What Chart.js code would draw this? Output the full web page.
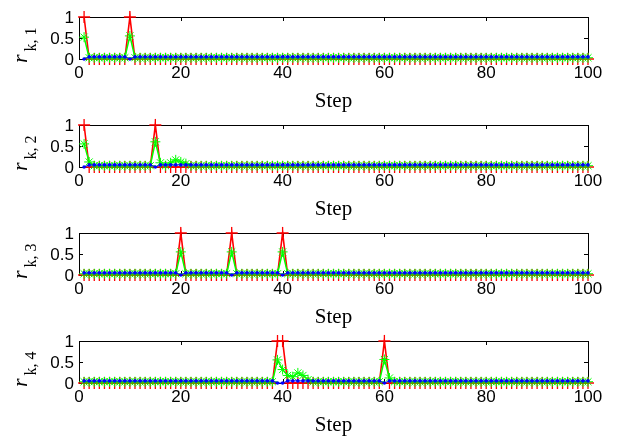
<!DOCTYPE html>
<html>
<head>
  <meta charset="utf-8">
  <title>r_k per step</title>
  <script src="https://cdn.jsdelivr.net/npm/chart.js@4.4.0/dist/chart.umd.min.js"></script>
  <style>
    body { margin: 0; background: #fff; }
    #wrap { position: relative; width: 617px; height: 438px; }
    canvas { position: absolute; left: 0; }
    .ytick {
      position: absolute;
      height: 20px;
      line-height: 20px;
      font: 17px "Liberation Sans", Arial, sans-serif;
      color: #000;
      text-align: right;
      white-space: nowrap;
      z-index: 5;
    }
  </style>
</head>
<body>
  <div id="wrap"></div>
  <script>
    // steps 1..100 on the x axis
    var steps = Array.from({ length: 100 }, function (_, i) { return i + 1; });
    var xTicks = [0, 20, 40, 60, 80, 100];
    var yTicks = [0, 0.5, 1];
    var yTickLabels = ['0', '0.5', '1'];
    var yLabelSubs = ['k, 1', 'k, 2', 'k, 3', 'k, 4'];

    // flat level of each series
    var redBase = 0;
    var greenBase = 0.03;
    var blueBase = 0.05;

    // [step, value] where a series leaves its flat level
    var red1 = [[1, 1], [10, 1]];
    var green1 = [[1, 0.52], [10, 0.55]];
    var blue1 = [[1, 0], [10, 0]];

    var red2 = [[1, 1], [15, 1]];
    var green2 = [[1, 0.55], [2, 0.12], [15, 0.6], [16, 0.1], [18, 0.1], [19, 0.17], [20, 0.12], [21, 0.08]];
    var blue2 = [[1, 0], [15, 0]];

    var red3 = [[20, 1], [30, 1], [40, 1]];
    var green3 = [[20, 0.55], [30, 0.55], [40, 0.55]];
    var blue3 = [[20, 0], [30, 0], [40, 0]];

    var red4 = [[39, 1], [40, 1], [60, 1]];
    var green4 = [[39, 0.55], [40, 0.32], [41, 0.18], [42, 0.15], [43, 0.24], [44, 0.18], [45, 0.08], [60, 0.56], [61, 0.12]];
    var blue4 = [[39, 0], [40, 0], [60, 0]];

    var panels = [
      { red: red1, green: green1, blue: blue1 },
      { red: red2, green: green2, blue: blue2 },
      { red: red3, green: green3, blue: blue3 },
      { red: red4, green: green4, blue: blue4 }
    ];

    function series(base, spikes) {
      var ys = steps.map(function () { return base; });
      spikes.forEach(function (s) { ys[s[0] - 1] = s[1]; });
      return steps.map(function (s, i) { return { x: s, y: ys[i] }; });
    }

    var sansFont = { family: 'Liberation Sans, Arial, sans-serif', size: 17, lineHeight: 1 };
    var wrap = document.getElementById('wrap');
    var panelHeight = 108;

    panels.forEach(function (p, idx) {
      var canvas = document.createElement('canvas');
      canvas.width = 617;
      canvas.height = 114;
      canvas.style.top = (idx * panelHeight) + 'px';
      wrap.appendChild(canvas);

      var decor = {
        id: 'panelDecor',
        beforeDatasetsDraw: function (chart) {
          var a = chart.chartArea, ctx = chart.ctx;
          var xs = chart.scales.x, ys = chart.scales.y;
          ctx.save();
          ctx.strokeStyle = '#000';
          ctx.lineWidth = 1;
          ctx.strokeRect(a.left + 0.5, a.top + 0.5, a.right - a.left, a.bottom - a.top);
          ctx.beginPath();
          xTicks.forEach(function (t) {
            var x = Math.round(xs.getPixelForValue(t)) + 0.5;
            ctx.moveTo(x, a.top); ctx.lineTo(x, a.top + 4);
            ctx.moveTo(x, a.bottom); ctx.lineTo(x, a.bottom - 4);
          });
          yTicks.forEach(function (t) {
            var y = Math.round(ys.getPixelForValue(t)) + 0.5;
            ctx.moveTo(a.left, y); ctx.lineTo(a.left + 4, y);
            ctx.moveTo(a.right, y); ctx.lineTo(a.right - 4, y);
          });
          ctx.stroke();
          ctx.restore();
        },
        afterDraw: function (chart) {
          var ctx = chart.ctx, a = chart.chartArea, ys = chart.scales.y;

          // y tick labels as text over the canvas, placed from the y scale
          if (!chart.$tickLabelsPlaced) {
            chart.$tickLabelsPlaced = true;
            yTicks.forEach(function (t, i) {
              var d = document.createElement('div');
              d.className = 'ytick';
              d.textContent = yTickLabels[i];
              d.style.top = (idx * panelHeight + ys.getPixelForValue(t) + 1 - 10) + 'px';
              d.style.right = (617 - (a.left - 5)) + 'px';
              wrap.appendChild(d);
            });
          }

          ctx.save();
          ctx.fillStyle = '#000';
          ctx.textAlign = 'center';
          ctx.textBaseline = 'alphabetic';
          ctx.font = '21px "Liberation Serif", "Times New Roman", serif';
          ctx.fillText('Step', (a.left + a.right) / 2, 107);

          // y label: italic r with subscript, turned upright
          ctx.translate(27, 63);
          ctx.rotate(-Math.PI / 2);
          ctx.textAlign = 'left';
          ctx.font = 'italic 22px "Liberation Serif", "Times New Roman", serif';
          ctx.fillText('r', 0, 0);
          var w = ctx.measureText('r').width;
          ctx.font = '16px "Liberation Serif", "Times New Roman", serif';
          ctx.fillText(yLabelSubs[idx], w + 3, 9);
          ctx.restore();
        }
      };

      new Chart(canvas, {
        type: 'line',
        data: {
          datasets: [
            {
              data: series(redBase, p.red),
              borderColor: '#ff0000',
              borderWidth: 1.6,
              pointStyle: 'cross',
              pointRadius: 6,
              pointBorderColor: '#ff0000',
              pointBorderWidth: 1.3,
              order: 3,
              clip: false
            },
            {
              data: series(greenBase, p.green),
              borderColor: '#00ff00',
              borderWidth: 1.5,
              pointStyle: 'star',
              pointRadius: 5,
              pointBorderColor: '#00ff00',
              pointBorderWidth: 1,
              order: 2,
              clip: false
            },
            {
              data: series(blueBase, p.blue),
              borderColor: '#0000ff',
              borderWidth: 1,
              pointStyle: 'circle',
              pointRadius: 1.8,
              pointBorderWidth: 0,
              pointBackgroundColor: '#0000ff',
              order: 1,
              clip: false
            }
          ]
        },
        options: {
          responsive: false,
          animation: false,
          events: [],
          layout: { padding: { left: 0, right: 29, top: 17, bottom: 0 } },
          elements: { line: { tension: 0 } },
          plugins: { legend: { display: false }, tooltip: { enabled: false } },
          scales: {
            x: {
              type: 'linear',
              min: 0,
              max: 100,
              grid: { display: false, drawTicks: false },
              border: { display: false },
              ticks: { autoSkip: false, maxRotation: 0, padding: 6, color: '#000', font: sansFont },
              afterBuildTicks: function (s) { s.ticks = xTicks.map(function (v) { return { value: v }; }); },
              afterFit: function (s) { s.height = 55; }
            },
            y: {
              min: 0,
              max: 1,
              grid: { display: false, drawTicks: false },
              border: { display: false },
              ticks: { display: false },
              afterFit: function (s) { s.width = 79; }
            }
          }
        },
        plugins: [decor]
      });
    });
  </script>
</body>
</html>
